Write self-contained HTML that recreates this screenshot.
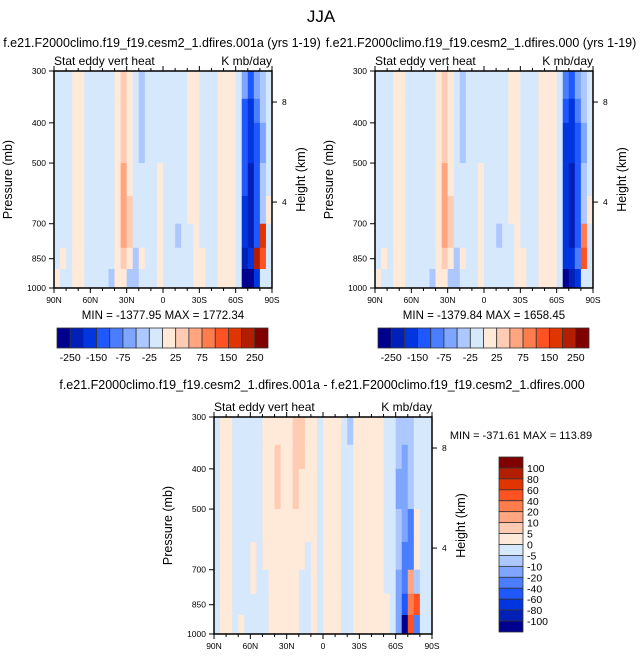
<!DOCTYPE html>
<html><head><meta charset="utf-8"><style>
html,body{margin:0;padding:0;background:#fff;}
svg{display:block;font-family:"Liberation Sans",Arial,sans-serif;}
</style></head><body>
<svg id="chart" width="643" height="658" viewBox="0 0 643 658" xmlns="http://www.w3.org/2000/svg">
<text x="321" y="22" font-size="17" text-anchor="middle">JJA</text>
</svg>
<script>
// ---- data ----
const latCenters=[87.5,82.5,77.5,72.5,67.5,62.5,57.5,52.5,47.5,42.5,37.5,32.5,27.5,22.5,17.5,12.5,7.5,2.5,-2.5,-7.5,-12.5,-17.5,-22.5,-27.5,-32.5,-37.5,-42.5,-47.5,-52.5,-57.5,-62.5,-67.5,-72.5,-77.5,-82.5,-87.5];
const presEdges=[300,350,400,500,600,700,800,900,1000];
const levelsTop=[-250,-200,-150,-100,-75,-50,-25,0,25,50,75,100,150,200,250];
const levelsDiff=[-100,-80,-60,-40,-20,-10,-5,0,5,10,20,40,60,80,100];
const topLabels=["-250","-150","-75","-25","25","75","150","250"];
const diffLabels=["100","80","60","40","20","10","5","0","-5","-10","-20","-40","-60","-80","-100"];
const field1=[
[-10,-10,-10,10,10,-10,-10,-10,-10,-10,10,30,10,-10,-30,-10,-10,-10,-10,-10,-10,-10,10,10,-10,-10,-10,10,10,10,-10,-60,-120,-60,-40,-10],
[-10,-10,-10,10,10,-10,-10,-10,-10,-10,10,40,10,-10,-30,-10,-10,-10,-10,-10,-10,-10,10,10,-10,-10,-10,10,10,10,-10,-110,-180,-90,-40,-10],
[-10,-10,-10,10,10,-10,-10,-10,-10,-10,10,40,10,-10,-30,-10,-10,-10,-10,-10,-10,-10,10,10,-10,-10,-10,10,10,10,-10,-150,-200,-120,-60,-10],
[-10,-10,-10,10,10,-10,-10,-10,-10,-10,10,60,20,-10,-10,-10,-10,10,-10,-10,-10,-10,10,10,-10,-10,-10,10,10,10,-10,-150,-220,-120,-30,-10],
[-10,-10,-10,10,10,-10,-10,-10,-10,-10,10,60,30,-10,-10,-10,-10,10,-10,-10,-10,-10,10,10,-10,-10,-10,10,10,10,-10,-180,-220,-150,-30,10],
[-10,-10,-10,10,10,-10,-10,-10,-10,-10,10,60,30,-10,-10,-10,-10,10,-10,-10,-30,-10,-10,10,-10,-10,-10,10,10,10,-10,-200,-220,-120,150,-10],
[-10,10,-10,10,10,-10,-10,-10,-10,-10,10,30,10,-30,10,-10,-10,10,-10,-10,-10,-10,-10,10,10,-10,-10,10,10,10,-10,-220,-180,200,100,-10],
[10,-10,-10,10,10,-10,-10,-10,-10,-30,10,10,-30,-30,-10,-10,-10,10,-10,-10,-10,-10,-10,10,10,-10,-10,10,10,10,-10,-260,-260,-200,-10,-10]];
const field2=[
[-10,-10,-10,10,10,-10,-10,-10,-10,-10,10,30,10,-10,-30,-10,-10,-10,-10,-10,-10,-10,10,10,-10,-10,-10,10,10,10,-10,-80,-120,-60,-40,-10],
[-10,-10,-10,10,10,-10,-10,-10,-10,-10,10,40,10,-10,-30,-10,-10,-10,-10,-10,-10,-10,10,10,-10,-10,-10,10,10,10,-10,-130,-180,-90,-40,-10],
[-10,-10,-10,10,10,-10,-10,-10,-10,-10,10,40,10,-10,-30,-10,-10,-10,-10,-10,-10,-10,10,10,-10,-10,-10,10,10,10,-10,-170,-200,-120,-60,-10],
[-10,-10,-10,10,10,-10,-10,-10,-10,-10,10,60,20,-10,-10,-10,-10,10,-10,-10,-10,-10,10,10,-10,-10,-10,10,10,10,-10,-170,-220,-120,-30,-10],
[-10,-10,-10,10,10,-10,-10,-10,-10,-10,10,60,30,-10,-10,-10,-10,10,-10,-10,-10,-10,10,10,-10,-10,-10,10,10,10,-10,-180,-220,-150,-30,10],
[-10,-10,-10,10,10,-10,-10,-10,-10,-10,10,60,30,-10,-10,-10,-10,10,-10,-10,-30,-10,-10,10,-10,-10,-10,10,10,10,-10,-200,-220,-120,80,-10],
[-10,10,-10,10,10,-10,-10,-10,-10,-10,10,30,10,-30,10,-10,-10,10,-10,-10,-10,-10,-10,10,10,-10,-10,10,10,10,-10,-200,-180,-80,120,-10],
[10,-10,-10,10,10,-10,-10,-10,-10,-30,10,10,-30,-30,-10,-10,-10,10,-10,-10,-10,-10,-10,10,10,-10,-10,10,10,10,-10,-260,-240,-200,-10,-10]];
const field3=[
[-3,3,3,-3,-3,-3,-3,-3,3,3,3,3,3,8,8,3,3,-3,3,3,3,-3,-8,3,3,3,3,3,-3,-3,-8,-8,-8,-3,-3,-3],
[-3,3,3,-3,-3,-3,-3,-3,3,3,8,3,3,8,8,3,3,-3,3,3,3,-3,-3,3,3,3,3,3,-3,-3,-8,-15,-8,-3,-3,-3],
[-3,3,3,-3,-3,-3,-3,-3,3,3,8,3,3,8,3,3,3,-3,3,3,3,-3,-3,3,3,3,3,3,-3,-3,-15,-15,-8,-3,-3,-3],
[-3,3,3,-3,-3,-3,-3,-3,3,3,3,3,3,3,3,3,3,-3,3,3,3,-3,-3,3,3,3,3,3,-3,-3,-8,-15,-25,3,-3,-3],
[-3,3,3,-3,-3,-3,3,-3,3,3,3,3,3,3,3,-3,3,-3,3,3,3,-3,-3,3,3,3,3,3,-3,-3,-8,-25,-25,3,-3,-3],
[-3,3,3,-3,-3,-3,3,-3,-3,3,3,3,3,3,-3,-3,3,-3,3,3,3,-3,-3,3,3,3,3,3,-3,-3,-15,-30,15,-8,-3,-3],
[-3,3,3,-3,-3,-3,-3,-3,-3,3,3,3,3,3,-3,-3,3,-3,3,3,3,-3,-3,3,3,3,3,3,3,-3,-15,-50,30,40,-5,-3],
[-3,3,3,-3,3,-3,-3,-3,-3,3,3,3,3,3,-3,-3,3,-3,3,3,3,-3,-3,3,3,3,3,3,3,-3,-20,-110,50,-30,-3,-3]];
const colors=["#00008f","#0020b8","#0035e0","#1f58ff","#4a7dff","#7ea6ff","#adc8ff","#d6e8fc","#ffe9d9","#ffcbb3","#ffa680","#ff7d4d","#ff5222","#e03500","#b31e00","#800000"];
// ---- helpers ----
const svg=document.getElementById('chart');
const NS='http://www.w3.org/2000/svg';
function mk(tag,attrs,parent){const e=document.createElementNS(NS,tag);for(const k in attrs)e.setAttribute(k,attrs[k]);(parent||svg).appendChild(e);return e;}
function colorFor(v,levels){let i=0;while(i<levels.length&&v>=levels[i])i++;return colors[i];}
function txt(x,y,s,size,anchor,name,extra){const t=mk('text',Object.assign({x:x,y:y,'font-size':size,'text-anchor':anchor||'middle'},extra||{}));t.textContent=s;


return t;}

function panel(L,T,W,H,field,levels,prefix){
  const xs=lat=>L+W*(90-lat)/180;
  const ys=p=>T+H*Math.log(p/300)/Math.log(1000/300);
  const g=mk('g',{});
  
  
  for(let r=0;r<field.length;r++){
    for(let c=0;c<latCenters.length;c++){
      const x0=xs(latCenters[c]+2.5),x1=xs(latCenters[c]-2.5);
      const y0=ys(presEdges[r]),y1=ys(presEdges[r+1]);
      const rc=mk('rect',{x:x0,y:y0,width:x1-x0+0.3,height:y1-y0+0.3,fill:colorFor(field[r][c],levels)},g);
      
      
    }
  }
  const fr=mk('rect',{x:L,y:T,width:W,height:H,fill:'none',stroke:'#000','stroke-width':1.5});
  
  
  // x ticks
  const latTicks=[90,60,30,0,-30,-60,-90],latLab=["90N","60N","30N","0","30S","60S","90S"];
  for(let lat=90;lat>=-90;lat-=10){
    const major=lat%30===0,len=major?5:3,x=xs(lat);
    mk('line',{x1:x,y1:T+H,x2:x,y2:T+H+len,stroke:'#000','stroke-width':1});
    mk('line',{x1:x,y1:T,x2:x,y2:T-len,stroke:'#000','stroke-width':1});
  }
  latTicks.forEach((lat,i)=>txt(xs(lat),T+H+15,latLab[i],8.5,'middle',prefix+'-x-tick-label'));
  [300,400,500,700,850,1000].forEach(p=>{const y=ys(p);
    mk('line',{x1:L-5,y1:y,x2:L,y2:y,stroke:'#000','stroke-width':1});
    txt(L-8,y+3,String(p),8.5,'end',prefix+'-y-tick-label');});
  [[8,300*Math.exp(0)],[4,0]].forEach(()=>{});
  const hk=[[8,T+H*0.143],[4,T+H*0.604]];
  hk.forEach(([k,y])=>{mk('line',{x1:L+W,y1:y,x2:L+W+5,y2:y,stroke:'#000','stroke-width':1});
    txt(L+W+10,y+3,String(k),8.5,'start',prefix+'-height-tick-label');});
  txt(L,T-6,"Stat eddy vert heat",12,'start',prefix+'-left-subtitle');
  txt(L+W,T-6,"K mb/day",12,'end',prefix+'-units-label');
  txt(0,0,"Pressure (mb)",12.5,'middle',prefix+'-y-axis-title',{transform:`translate(${L-42},${T+H/2}) rotate(-90)`});
  txt(0,0,"Height (km)",12.5,'middle',prefix+'-right-axis-title',{transform:`translate(${L+W+33},${T+H/2}) rotate(-90)`});
}
panel(54,71,218,217,field1,levelsTop,'left-panel');
panel(375,71,218,217,field2,levelsTop,'right-panel');
panel(214,417,218,217,field3,levelsDiff,'diff-panel');
txt(162,47,"f.e21.F2000climo.f19_f19.cesm2_1.dfires.001a (yrs 1-19)",12.5,'middle','left-panel-title');
txt(481,47,"f.e21.F2000climo.f19_f19.cesm2_1.dfires.000 (yrs 1-19)",12.5,'middle','right-panel-title');
txt(322,389,"f.e21.F2000climo.f19_f19.cesm2_1.dfires.001a - f.e21.F2000climo.f19_f19.cesm2_1.dfires.000",12.5,'middle','diff-panel-title');
txt(163,319,"MIN = -1377.95  MAX = 1772.34",11.5,'middle','left-min-max');
txt(484,319,"MIN = -1379.84  MAX = 1658.45",11.5,'middle','right-min-max');
txt(521,439,"MIN = -371.61  MAX = 113.89",11,'middle','diff-min-max');
// horizontal colorbars
function hbar(L,prefix){
  const T=328,Hh=20,bw=(268-57)/16;
  colors.forEach((c,i)=>{const r=mk('rect',{x:L+i*bw,y:T,width:bw,height:Hh,fill:c,stroke:'#333','stroke-width':0.8});
    
    });
  topLabels.forEach((s,i)=>txt(L+(1+2*i)*bw,T+Hh+13,s,10.5,'middle',prefix+'-colorbar-label'));
}
hbar(57,'left');hbar(378,'right');
// vertical colorbar
(function(){const L=499,T=457,bw=24,bh=(632-457)/16;
  for(let i=0;i<16;i++){const r=mk('rect',{x:L,y:T+i*bh,width:bw,height:bh,fill:colors[15-i],stroke:'#333','stroke-width':0.8});
    
    }
  diffLabels.forEach((s,i)=>txt(L+bw+4,T+(i+1)*bh+4,s,10.5,'start','diff-colorbar-label'));
})();
</script>
</body></html>
